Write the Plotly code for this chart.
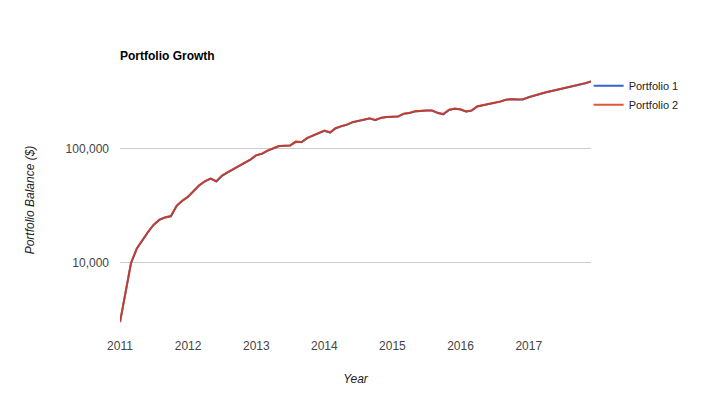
import plotly.graph_objects as go
import pandas as pd

months = pd.date_range("2011-01-01", "2017-12-01", freq="MS").strftime("%Y-%m-%d").tolist()

portfolio2 = [
    3030, 5820, 10000, 13400, 16000, 18800, 21700, 24000, 25200, 25800, 31800, 35200,
    38200, 43000, 48100, 52200, 55000, 52200, 58400, 62600, 66700, 72000, 76000, 81000,
    88300, 91000, 96700, 101600, 106000, 107000, 107500, 116000, 115000, 125000, 132000, 139000,
    145000, 140000, 152000, 158500, 163500, 172000, 177000, 180000, 186000, 180000, 188000, 191000,
    193000, 193000, 204000, 207000, 214000, 217000, 218000, 218000, 208000, 203000, 221000, 226000,
    223000, 214000, 218000, 237000, 243000, 249000, 253000, 261000, 271000, 274000, 272000, 273000,
    285000, 295000, 306000, 314000, 322000, 331000, 340000, 348000, 357000, 365000, 378000, 392000,
]

portfolio1 = [
    3030, 5800, 9950, 13350, 15950, 18750, 21650, 23950, 25100, 25700, 31700, 35100,
    38100, 42900, 48000, 52100, 54900, 51900, 58200, 62400, 66500, 71800, 75800, 80800,
    88000, 90700, 96400, 101300, 105700, 106600, 107100, 115600, 114500, 124600, 131600, 138500,
    144400, 139000, 151400, 158000, 163000, 171400, 176400, 179400, 185400, 179000, 187400, 190400,
    192400, 192300, 203300, 206400, 213300, 216400, 217300, 217200, 206500, 201500, 220200, 225300,
    222000, 212500, 217000, 236200, 242300, 248300, 252300, 260300, 270300, 273300, 271200, 272200,
    284200, 294200, 305200, 313200, 321200, 330200, 339200, 347200, 356200, 364200, 377200, 391000,
]

series_names = ["Portfolio 1", "Portfolio 2"]

year_ticks = ["2011-01-01", "2012-01-01", "2013-01-01", "2014-01-01",
              "2015-01-01", "2016-01-01", "2017-01-01"]
year_labels = ["2011", "2012", "2013", "2014", "2015", "2016", "2017"]

y_ticks = [10000, 100000]
y_labels = ["10,000", "100,000"]

fig = go.Figure()
fig.add_trace(go.Scatter(x=months, y=portfolio1, mode="lines", name=series_names[0],
                         line=dict(color="#3366cc", width=2)))
fig.add_trace(go.Scatter(x=months, y=portfolio2, mode="lines", name=series_names[1],
                         line=dict(color="#dc3912", width=2), opacity=0.85))

fig.update_layout(
    width=720, height=399,
    margin=dict(l=120, r=129, t=75, b=74),
    paper_bgcolor="white", plot_bgcolor="white",
    font=dict(family="Arial, Liberation Sans, sans-serif", size=12, color="#444444"),
    title=dict(text="<b>Portfolio Growth</b>", x=120/720, xanchor="left", xref="container",
               y=1 - 56/399, yanchor="middle", yref="container",
               font=dict(size=12, color="#000000")),
    legend=dict(x=0.995, y=1.015, xanchor="left", yanchor="top",
                font=dict(size=11, color="#222222"), bgcolor="rgba(0,0,0,0)",
                itemwidth=30, tracegroupgap=0),
    xaxis=dict(range=["2011-01-01", "2017-12-01"], tickvals=year_ticks, ticktext=year_labels,
               showgrid=False, zeroline=False, showline=False, ticks="",
               ticklabelstandoff=12,
               tickfont=dict(size=12, color="#444444"),
               title=dict(text="<i>Year</i>", font=dict(size=12, color="#222222"), standoff=22)),
    yaxis=dict(type="log", range=[3.456, 5.649], tickvals=y_ticks, ticktext=y_labels,
               showgrid=True, gridcolor="#cccccc", gridwidth=1, zeroline=False, showline=False,
               ticks="", ticklabelstandoff=10,
               tickfont=dict(size=12, color="#444444"),
               title=dict(text="<i>Portfolio Balance ($)</i>", font=dict(size=12, color="#222222"),
                          standoff=28)),
    hovermode=False,
)

fig.write_html("out.html", post_script="document.body.style.margin='0';",
               config={"displayModeBar": False})
